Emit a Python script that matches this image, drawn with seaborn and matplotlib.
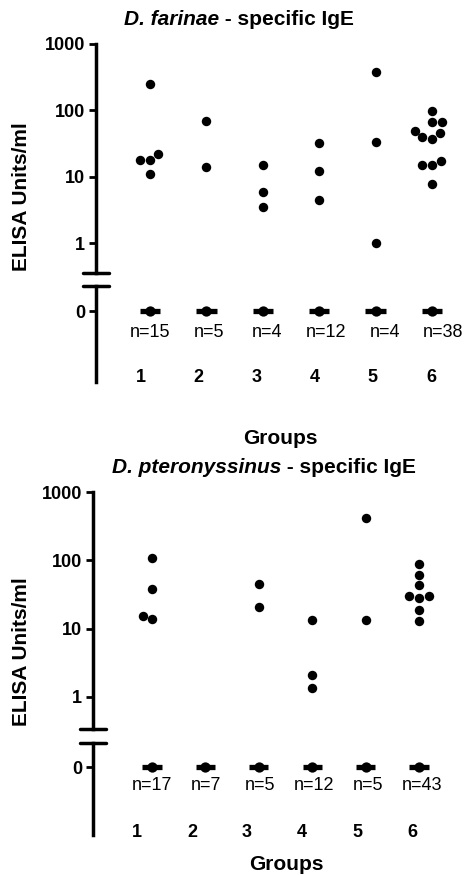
import numpy as np
import pandas as pd
import matplotlib
matplotlib.use("Agg")
import matplotlib.pyplot as plt
import seaborn as sns

sns.set_theme(style="white")
plt.rcParams["font.family"] = ["Liberation Sans", "DejaVu Sans"]
plt.rcParams["text.color"] = "black"
plt.rcParams["axes.edgecolor"] = "black"
plt.rcParams["ytick.color"] = "black"
plt.rcParams["xtick.color"] = "black"

# -----------------------------
# Data (ELISA units/ml)
# -----------------------------
groups = [1, 2, 3, 4, 5, 6]

far_group = [1, 1, 1, 1, 1, 2, 2, 3, 3, 3, 4, 4, 4, 5, 5, 5,
             6, 6, 6, 6, 6, 6, 6, 6, 6, 6, 6]
far_value = [250, 22, 18, 18, 11, 68, 14, 15, 5.8, 3.5, 32, 12.4, 4.4, 385, 33, 1.0,
             99, 67, 67, 49, 45, 39, 37, 17, 15, 15, 7.7]
far_n = [15, 5, 4, 12, 4, 38]

pte_group = [1, 1, 1, 1, 3, 3, 4, 4, 4, 5, 5, 6, 6, 6, 6, 6, 6, 6, 6]
pte_value = [110, 38, 15.5, 13.7, 45, 21, 13.4, 2.1, 1.37, 415, 13.3,
             87, 62, 44, 30, 30, 28, 18.6, 13]
pte_n = [17, 7, 5, 12, 5, 43]

W, H = 468, 875
fig = plt.figure(figsize=(W / 100, H / 100), dpi=100)


def box(left, right, top, bottom):
    # pixel box -> figure fraction
    return [left / W, 1 - bottom / H, (right - left) / W, (bottom - top) / H]


def draw_panel(geo, group, value, n_counts, title_it):
    ax_log = fig.add_axes(box(geo["x0"], 465, geo["top"], geo["brk1"]))
    ax_zero = fig.add_axes(box(geo["x0"], 465, geo["brk2"], geo["bot"]))

    df = pd.DataFrame({"group": group, "value": value})
    sns.swarmplot(data=df, x="group", y="value", order=groups, color="black",
                  size=6.8, linewidth=0, log_scale=True, ax=ax_log)

    pos = np.arange(len(groups))
    zeros = np.zeros(len(groups))
    sns.scatterplot(x=pos, y=zeros, color="black", s=55, linewidth=0, ax=ax_zero)
    ax_zero.hlines(zeros, pos - 0.18, pos + 0.18, color="black", lw=3.8)

    for ax in (ax_log, ax_zero):
        ax.set_xlim(geo["xlim"])
        ax.set_xticks([])
        ax.set_xlabel("")
        ax.set_ylabel("")
        sns.despine(ax=ax, bottom=True)
        ax.spines["left"].set_linewidth(2.5)
        ax.tick_params(axis="y", left=True, direction="out", length=5, width=2,
                       labelsize=13, pad=3, colors="black")

    ax_log.set_ylim(geo["ylow"], 1000)
    ax_log.set_yticks([1, 10, 100, 1000])
    ax_log.set_yticklabels(["1", "10", "100", "1000"], fontweight="bold")
    ax_log.minorticks_off()
    ax_zero.set_ylim(geo["zlim"])
    ax_zero.set_yticks([0])
    ax_zero.set_yticklabels(["0"], fontweight="bold")

    # axis break marks
    hw = 13 / (465 - geo["x0"])
    ax_log.plot([-hw, hw], [0, 0], transform=ax_log.transAxes, color="black",
                lw=2.5, clip_on=False)
    ax_zero.plot([-hw, hw], [1, 1], transform=ax_zero.transAxes, color="black",
                 lw=2.5, clip_on=False)

    trans = ax_zero.get_xaxis_transform()
    for i, (g, n) in enumerate(zip(groups, n_counts)):
        ax_zero.text(i * geo["nstretch"], geo["ny"], f"n={n}", transform=trans,
                     ha="center", va="center", fontsize=13)
        ax_zero.text(i * 1.03 + geo["gshift"], geo["gy"], str(g), transform=trans,
                     ha="center", va="center", fontsize=13, fontweight="bold")

    fig.text(geo["tx"] / W, 1 - geo["ty"] / H, title_it, ha="right", va="baseline",
             fontsize=15, fontweight="bold", style="italic")
    fig.text(geo["tx"] / W, 1 - geo["ty"] / H, " - specific IgE", ha="left",
             va="baseline", fontsize=15, fontweight="bold")
    fig.text(22 / W, 1 - geo["yl"] / H, "ELISA Units/ml", rotation=90, ha="center",
             va="center", fontsize=15, fontweight="bold")
    fig.text(geo["gx"] / W, 1 - geo["gyl"] / H, "Groups", ha="center", va="center",
             fontsize=15, fontweight="bold")


top_geo = dict(x0=96, top=44, brk1=273, brk2=286, bot=382, ylow=0.354,
               zlim=(-71, 25), xlim=(-0.957, 5.585), nstretch=1.04, ny=0.52,
               gshift=-0.17, gy=0.05, tx=219, ty=25, yl=197, gx=280, gyl=438)
bot_geo = dict(x0=93, top=492, brk1=729, brk2=743, bot=835, ylow=0.34,
               zlim=(-68, 24), xlim=(-1.105, 5.86), nstretch=1.01, ny=0.543,
               gshift=-0.28, gy=0.03, tx=281, ty=473, yl=652, gx=286, gyl=865)

draw_panel(top_geo, far_group, far_value, far_n, "D. farinae")
draw_panel(bot_geo, pte_group, pte_value, pte_n, "D. pteronyssinus")

fig.savefig("out.png", dpi=100)
